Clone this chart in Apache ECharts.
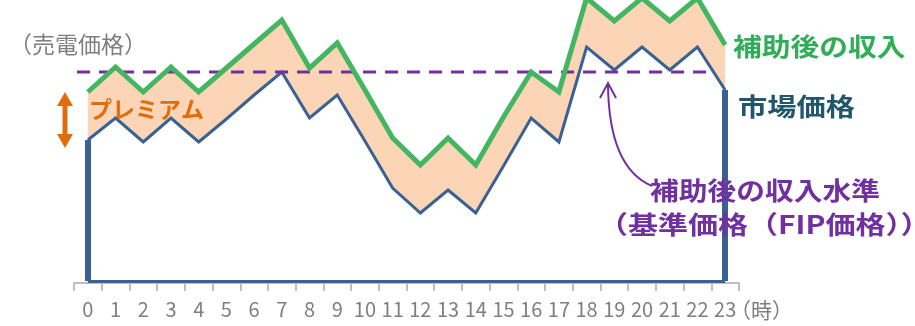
<!DOCTYPE html>
<html>
<head>
<meta charset="utf-8">
<script src="https://cdn.jsdelivr.net/npm/echarts@6/dist/echarts.min.js"></script>
<style>
  html, body { margin: 0; padding: 0; background: #fff; }
  #chart { width: 915px; height: 326px; }
</style>
</head>
<body>
<div id="chart"></div>
<script>
// 時間（横軸）
const hours = ["0","1","2","3","4","5","6","7","8","9","10","11","12","13","14","15","16","17","18","19","20","21","22","23"];
// 市場価格
const marketPrice = [14.1, 16.3, 13.9, 16.3, 13.9, 16.2, 18.6, 20.9, 16.3, 18.6, 14.0, 9.3, 6.8, 9.1, 6.8, 11.5, 16.3, 13.9, 23.4, 21.1, 23.4, 21.1, 23.4, 19.1];
// 補助後の収入
const revenue = [18.9, 21.4, 18.9, 21.4, 18.9, 21.3, 23.7, 26.1, 21.3, 23.8, 19.1, 14.3, 11.6, 14.3, 11.6, 16.4, 20.9, 18.9, 28.3, 26.0, 28.3, 26.0, 28.3, 23.6];
// 基準価格（FIP価格）
const fipPrice = 20.9;
const fipSpan = [-0.39, 22.53];

const FONT = "'Noto Sans CJK JP', 'Noto Sans', sans-serif";
const BLUE = "#3A6193";
const GREEN = "#42B660";
const PURPLE = "#7030A0";
const ORANGE = "#E36C0A";

const premium = revenue.map((v, i) => +(v - marketPrice[i]).toFixed(2));

const option = {
  animation: false,
  backgroundColor: "#fff",
  grid: { left: 74, right: 176, top: 0, bottom: 43 },
  xAxis: [
    {
      type: "category",
      data: hours,
      boundaryGap: true,
      axisLine: { show: true, onZero: false, lineStyle: { color: "#BFBFBF", width: 2 } },
      axisTick: { show: true, length: 8, lineStyle: { color: "#BFBFBF", width: 2 } },
      axisLabel: { interval: 0, color: "#7F7F7F", fontSize: 20, margin: 16, fontFamily: FONT },
      splitLine: { show: false }
    },
    { type: "value", min: -0.5, max: 23.5, show: false }
  ],
  yAxis: { type: "value", min: -0.2, max: 28.1, show: false, splitLine: { show: false } },
  series: [
    {
      name: "base",
      type: "line",
      data: marketPrice,
      stack: "gap",
      symbol: "none",
      clip: false,
      lineStyle: { width: 0, opacity: 0 },
      silent: true,
      z: 1
    },
    {
      name: "プレミアム",
      type: "line",
      data: premium,
      stack: "gap",
      symbol: "none",
      clip: false,
      lineStyle: { width: 0, opacity: 0 },
      areaStyle: { color: "#FBD5B5", opacity: 1 },
      silent: true,
      z: 1
    },
    {
      name: "市場価格",
      type: "line",
      data: marketPrice,
      symbol: "none",
      clip: false,
      lineStyle: { color: BLUE, width: 3, join: "miter" },
      z: 3,
      markLine: {
        silent: true,
        symbol: ["none", "none"],
        label: { show: false },
        emphasis: { disabled: true },
        data: [
          [{ coord: [hours[0], 0], lineStyle: { color: BLUE, width: 3, type: "solid" } }, { coord: [hours[23], 0] }],
          [{ coord: [hours[0], 0], lineStyle: { color: BLUE, width: 6, type: "solid" } }, { coord: [hours[0], marketPrice[0]] }],
          [{ coord: [hours[23], 0], lineStyle: { color: BLUE, width: 6, type: "solid" } }, { coord: [hours[23], marketPrice[23]] }]
        ]
      }
    },
    {
      name: "FIP",
      type: "line",
      xAxisIndex: 1,
      data: [[fipSpan[0], fipPrice], [fipSpan[1], fipPrice]],
      symbol: "none",
      lineStyle: { color: PURPLE, width: 3, type: [13, 9] },
      z: 4
    },
    {
      name: "補助後の収入",
      type: "line",
      data: revenue,
      symbol: "none",
      clip: false,
      lineStyle: { color: GREEN, width: 5, join: "miter" },
      z: 5
    }
  ],
  graphic: [
    { type: "text", x: 9, y: 33, z: 100, style: { text: "（売電価格）", fill: "#7F7F7F", font: "23px " + FONT } },
    { type: "text", x: 89, y: 98, z: 100, style: { text: "プレミアム", fill: ORANGE, font: "bold 23px " + FONT } },
    // 両矢印
    { type: "line", z: 100, shape: { x1: 65, y1: 102, x2: 65, y2: 139 }, style: { stroke: ORANGE, lineWidth: 5 } },
    { type: "polygon", z: 100, shape: { points: [[65, 92], [57, 106], [73, 106]] }, style: { fill: ORANGE } },
    { type: "polygon", z: 100, shape: { points: [[65, 148], [57, 134], [73, 134]] }, style: { fill: ORANGE } },
    { type: "text", x: 733, y: 34, z: 100, scaleX: 1.15, style: { text: "補助後の収入", fill: "#2FAD57", font: "bold 25px " + FONT } },
    { type: "text", x: 738, y: 94, z: 100, scaleX: 1.17, style: { text: "市場価格", fill: "#22566A", font: "bold 25px " + FONT } },
    { type: "text", x: 650, y: 178, z: 100, scaleX: 1.15, style: { text: "補助後の収入水準", fill: PURPLE, font: "bold 25px " + FONT } },
    { type: "text", x: 598, y: 212, z: 100, scaleX: 1.2, style: { text: "（基準価格（FIP価格））", fill: PURPLE, font: "bold 25px " + FONT } },
    // 矢印
    { type: "bezierCurve", z: 100, shape: { x1: 608, y1: 85, cpx1: 609, cpy1: 168, x2: 652, y2: 186 }, style: { stroke: PURPLE, lineWidth: 2, fill: null } },
    { type: "polyline", z: 100, shape: { points: [[600, 98], [608, 83], [616, 98]] }, style: { stroke: PURPLE, lineWidth: 2, fill: null } },
    { type: "text", x: 730, y: 300, z: 100, style: { text: "（時）", fill: "#7F7F7F", font: "21px " + FONT } }
  ]
};

const myChart = echarts.init(document.getElementById("chart"));
myChart.setOption(option);
</script>
</body>
</html>
